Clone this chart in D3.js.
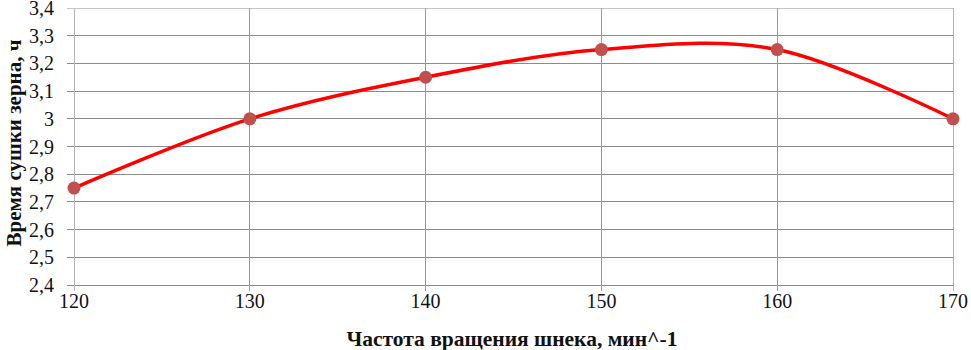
<!DOCTYPE html>
<html><head><meta charset="utf-8">
<script src="https://d3js.org/d3.v7.min.js"></script>
<style>body{margin:0;background:#fff}svg{display:block}
text{font-family:"Liberation Serif","Times New Roman","DejaVu Serif",serif}</style>
</head><body>
<script>
const speeds = [120, 130, 140, 150, 160, 170];
const dryTimes = [2.75, 3.0, 3.15, 3.25, 3.25, 3.0];
const yTicks = [2.4, 2.5, 2.6, 2.7, 2.8, 2.9, 3.0, 3.1, 3.2, 3.3, 3.4];
const xTitle = "Частота вращения шнека, мин^-1";
const yTitle = "Время сушки зерна, ч";

const W = 971, H = 350;
const m = {left: 74, right: 18, top: 8, bottom: 65};
const svg = d3.select("body").append("svg").attr("width", W).attr("height", H);
const x = d3.scaleLinear().domain([120, 170]).range([m.left, W - m.right]);
const y = d3.scaleLinear().domain([2.4, 3.4]).range([H - m.bottom, m.top]);
const fmt = v => d3.format("")(+v.toFixed(1)).replace(".", ",");

// horizontal gridlines
svg.append("g").selectAll("line").data(yTicks).join("line")
  .attr("x1", m.left - 7).attr("x2", W - m.right)
  .attr("y1", d => y(d)).attr("y2", d => y(d))
  .attr("stroke", d => d === 3.4 ? "#c4c4c4" : "#8c8c8c").attr("stroke-width", 1)
  .attr("shape-rendering", "crispEdges");
// vertical gridlines
svg.append("g").selectAll("line").data(speeds).join("line")
  .attr("x1", d => x(d)).attr("x2", d => x(d))
  .attr("y1", m.top).attr("y2", H - m.bottom + 6)
  .attr("stroke", (d, i) => (i === 0 || i === speeds.length - 1) ? "#b4b4b4" : "#9a9a9a")
  .attr("stroke-width", 1).attr("shape-rendering", "crispEdges");

// y tick labels
svg.append("g").selectAll("text").data(yTicks).join("text")
  .attr("x", m.left - 20).attr("y", d => y(d)).attr("dy", "0.35em")
  .attr("text-anchor", "end").attr("font-size", 20)
  .attr("fill", "#111").text(fmt);
// x tick labels
svg.append("g").selectAll("text").data(speeds).join("text")
  .attr("x", d => x(d)).attr("y", H - m.bottom + 23)
  .attr("text-anchor", "middle").attr("font-size", 20)
  .attr("fill", "#111").text(d => d);

// axis titles
svg.append("text").attr("x", 512).attr("y", H - 4)
  .attr("text-anchor", "middle").attr("font-size", 21.5)
  .attr("font-weight", "bold").attr("fill", "#111").text(xTitle);
svg.append("text").attr("transform", `translate(21,143) rotate(-90)`)
  .attr("text-anchor", "middle").attr("font-size", 21)
  .attr("font-weight", "bold").attr("fill", "#111").text(yTitle);

// line
const pts = speeds.map((s, i) => [s, dryTimes[i]]);
const line = d3.line().x(d => x(d[0])).y(d => y(d[1])).curve(d3.curveCardinal.tension(0));
svg.append("path").datum(pts).attr("d", line).attr("fill", "none")
  .attr("stroke", "#ff0000").attr("stroke-width", 3.5).attr("stroke-linejoin", "round");
// markers
svg.append("g").selectAll("circle").data(pts).join("circle")
  .attr("cx", d => x(d[0])).attr("cy", d => y(d[1])).attr("r", 6.5)
  .attr("fill", "#c0504d");
</script>
</body></html>
